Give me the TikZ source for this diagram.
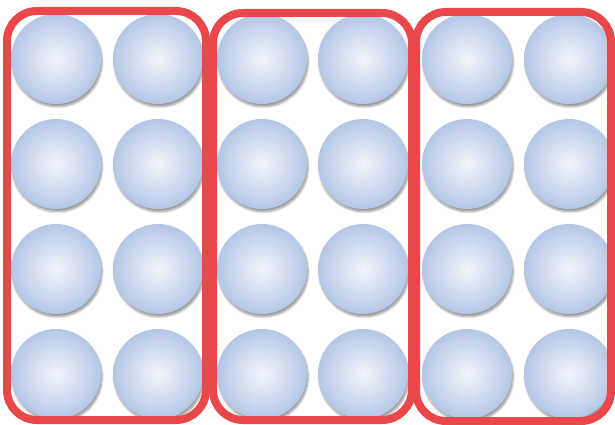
\documentclass[tikz,border=0pt]{standalone}
\usetikzlibrary{shadows.blur}
\definecolor{ballin}{HTML}{F1F4FB}
\definecolor{ballmid}{HTML}{D6E0F2}
\definecolor{ballout}{HTML}{B4C6E6}
\definecolor{boxred}{HTML}{E9474A}
\pgfdeclareradialshading{ballshade}{\pgfpoint{0bp}{0bp}}{color(0bp)=(ballin); color(12bp)=(ballmid); color(25bp)=(ballout); color(50bp)=(ballout)}
\begin{document}
\begin{tikzpicture}[x=1pt,y=-1pt,
  ball/.style={circle, minimum size=90pt, inner sep=0pt,
    shading=ballshade,
    blur shadow={shadow xshift=1.2pt, shadow yshift=-2.8pt, shadow blur steps=6, shadow blur radius=2pt, shadow opacity=40}},
  groupbox/.style={draw=boxred, line width=8pt, rounded corners=30pt}]
\useasboundingbox (0,0) rectangle (615,425);
\foreach \cx [count=\i] in {56,158,262,363,467,569}{
  \foreach \cy [count=\j] in {59,164,269,374}{
    \node[ball] (b\i\j) at (\cx,\cy) {};
  }
}
\draw[groupbox] (7,11) rectangle (206,420);
\draw[groupbox] (213,13) rectangle (412,420);
\draw[groupbox] (416,12) rectangle (611,421);
\end{tikzpicture}
\end{document}
